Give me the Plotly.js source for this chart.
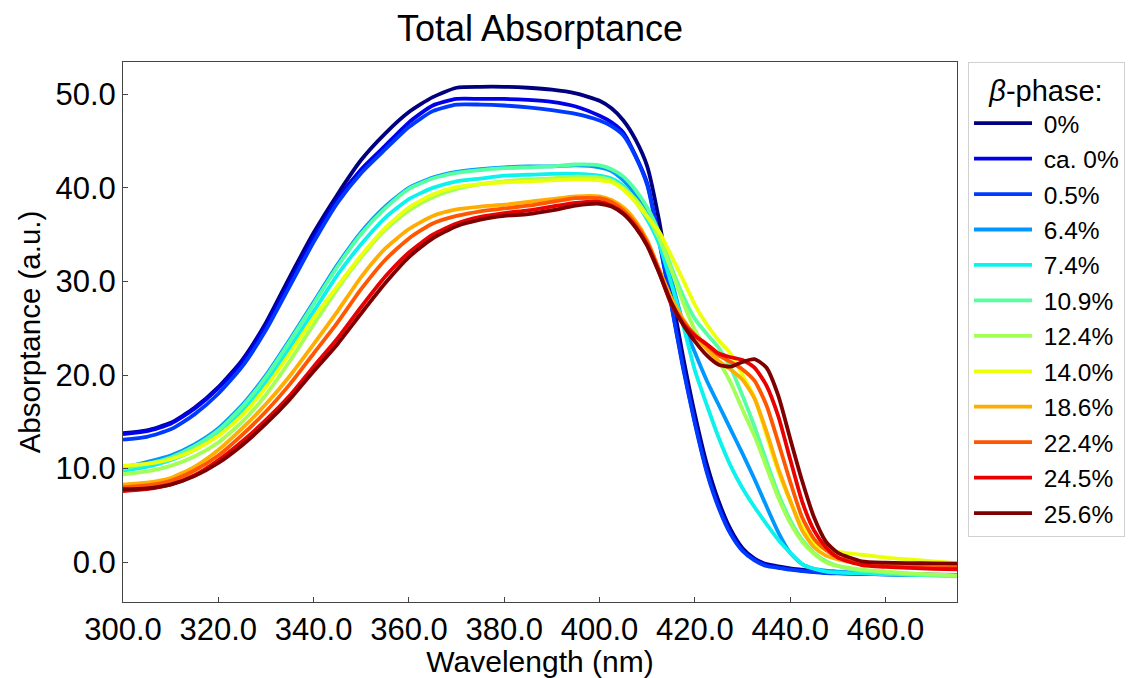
<!DOCTYPE html>
<html>
<head>
<meta charset="utf-8">
<script src="https://cdn.plot.ly/plotly-3.0.1.min.js"></script>
<style>html,body{margin:0;padding:0;background:#fff;}#chart{width:1130px;height:678px;}</style>
</head>
<body>
<div id="chart"></div>
<script>
// Wavelength grid (nm)
const wavelength = [300,305,310,315,320,325,330,335,340,345,350,355,360,365,370,375,380,385,390,395,400,
  402.5,405,407.5,410,412.5,415,417.5,420,422.5,425,427.5,430,432.5,435,437.5,440,442.5,445,447.5,450,
  455,460,465,470,475];

// Series labels (beta-phase fraction)
const labels = ["0%","ca. 0%","0.5%","6.4%","7.4%","10.9%","12.4%","14.0%","18.6%","22.4%","24.5%","25.6%"];

// Absorptance values (a.u.)
const abs_0 = [13.8,14.1,14.9,16.5,18.7,21.6,25.6,30.5,35.2,39.3,43.0,45.8,48.1,49.7,50.7,50.8,50.8,50.7,50.5,50.1,49.3,
  48.5,47.2,45.2,42.3,36.5,29.0,22.0,15.8,10.5,6.5,3.5,1.5,0.4,-0.2,-0.45,-0.65,-0.8,-0.95,-1.05,-1.1,
  -1.2,-1.25,-1.3,-1.32,-1.35];
const abs_ca0 = [13.7,14.0,14.8,16.4,18.6,21.4,25.3,30.0,34.7,38.8,42.0,44.5,47.0,48.8,49.5,49.5,49.5,49.4,49.2,48.7,47.7,
  47.0,45.9,43.5,40.5,34.5,27.8,21.0,15.0,9.8,6.0,3.2,1.3,0.3,-0.3,-0.55,-0.75,-0.9,-1.0,-1.1,-1.15,
  -1.25,-1.3,-1.33,-1.36,-1.4];
const abs_0p5 = [13.1,13.4,14.2,15.8,18.0,20.9,24.8,29.5,34.2,38.4,41.6,44.1,46.5,48.2,48.9,48.9,48.8,48.6,48.3,47.9,47.2,
  46.6,45.6,43.4,40.3,34.3,27.6,20.8,14.8,9.6,5.8,3.0,1.2,0.2,-0.4,-0.6,-0.8,-0.95,-1.05,-1.15,-1.2,
  -1.25,-1.3,-1.33,-1.36,-1.4];
const abs_6p4 = [10.1,10.7,11.4,12.6,14.3,16.8,20.0,23.8,27.8,31.8,35.3,38.0,40.0,41.1,41.7,42.0,42.2,42.3,42.3,42.4,42.2,
  41.8,40.8,39.3,37.3,34.3,30.3,25.6,22.4,19.4,16.8,14.2,11.6,8.9,6.0,3.2,1.0,-0.2,-0.7,-0.9,-1.0,
  -1.15,-1.2,-1.3,-1.35,-1.4];
const abs_7p4 = [9.8,10.2,10.9,12.0,13.7,16.1,19.2,22.9,26.8,30.7,34.0,36.8,38.8,40.0,40.7,41.0,41.3,41.4,41.5,41.5,41.3,
  41.0,40.2,38.6,36.6,34.0,29.8,25.4,20.5,16.8,13.3,10.3,7.9,5.9,4.1,2.4,1.0,-0.2,-0.7,-1.0,-1.1,
  -1.2,-1.3,-1.35,-1.4,-1.45];
const abs_10p9 = [10.0,10.5,11.2,12.4,14.1,16.6,19.8,23.6,27.6,31.6,35.1,37.8,39.9,41.0,41.6,41.9,42.1,42.2,42.3,42.5,42.4,
  42.0,41.2,39.8,37.9,35.2,31.6,28.5,26.0,24.4,22.9,20.8,17.8,14.5,10.8,7.3,4.5,2.4,1.0,0.1,-0.4,
  -0.9,-1.1,-1.3,-1.4,-1.5];
const abs_12p4 = [9.4,9.7,10.3,11.3,12.8,15.0,17.9,21.5,25.4,29.2,32.6,35.5,37.6,39.0,39.9,40.4,40.7,40.9,41.0,41.2,41.1,
  40.8,40.0,38.8,37.0,34.6,31.3,27.8,24.8,22.8,21.4,19.2,16.3,13.5,10.2,6.9,4.2,2.2,0.9,0.0,-0.4,
  -0.8,-1.0,-1.2,-1.3,-1.4];
const abs_14p0 = [10.3,10.5,11.0,12.0,13.5,15.7,18.7,22.3,26.1,29.5,32.8,35.7,37.9,39.3,40.1,40.4,40.6,40.7,40.8,40.9,40.8,
  40.6,39.8,38.5,36.9,35.3,32.8,30.2,27.5,25.4,23.7,22.3,20.0,17.6,13.6,9.7,6.5,3.8,2.0,1.35,1.1,
  0.8,0.5,0.3,0.1,-0.1];
const abs_18p6 = [8.3,8.5,9.0,10.2,12.0,14.3,16.9,19.9,23.3,26.8,30.5,33.5,35.6,37.0,37.7,38.0,38.2,38.5,38.8,39.1,39.1,
  38.7,37.9,36.5,34.4,31.3,28.3,26.0,24.2,22.8,21.5,20.6,19.5,17.5,14.0,10.0,6.6,3.4,1.6,0.7,0.3,
  -0.2,-0.35,-0.4,-0.45,-0.5];
const abs_22p4 = [8.0,8.2,8.7,9.8,11.4,13.6,16.1,19.0,22.3,25.6,29.2,32.3,34.6,36.2,37.0,37.5,37.8,38.1,38.5,38.9,38.9,
  38.5,37.6,36.2,34.2,31.2,27.8,25.8,24.3,23.2,22.1,21.4,20.6,19.4,16.8,12.8,8.6,4.8,2.5,1.3,0.5,
  -0.2,-0.4,-0.5,-0.55,-0.6];
const abs_24p5 = [7.6,7.8,8.3,9.3,10.9,12.9,15.2,17.8,20.9,23.9,27.3,30.5,33.1,35.0,36.2,36.9,37.3,37.6,38.0,38.4,38.5,
  38.1,37.3,35.9,33.9,31.0,27.6,25.5,24.2,23.3,22.3,21.9,21.6,20.8,18.9,15.6,11.0,6.5,3.4,1.6,0.5,
  -0.3,-0.5,-0.6,-0.7,-0.75];
const abs_25p6 = [7.8,7.9,8.3,9.2,10.6,12.5,14.8,17.4,20.4,23.3,26.6,29.8,32.6,34.6,35.9,36.6,37.0,37.2,37.6,38.1,38.3,
  38.0,37.2,35.8,33.8,30.9,27.8,25.4,23.6,22.1,21.1,20.9,21.4,21.7,20.8,17.8,13.2,8.7,4.8,2.2,1.0,
  0.1,-0.05,-0.1,-0.12,-0.15];

const seriesValues = [abs_0,abs_ca0,abs_0p5,abs_6p4,abs_7p4,abs_10p9,abs_12p4,abs_14p0,abs_18p6,abs_22p4,abs_24p5,abs_25p6];

// jet colormap sampled at 12 levels
const colors = ["#00007f","#0000e9","#003aff","#0097ff","#0bf3ec","#56ffa1","#a1ff56","#ecff0b","#ffad00","#ff5700","#e90000","#7f0000"];

const FONT = "Liberation Sans, Arial, Helvetica, sans-serif";

const traces = labels.map((lab, i) => ({
  type: "scatter",
  mode: "lines",
  x: wavelength,
  y: seriesValues[i],
  name: "\u00a0" + lab,
  legendgroup: "g" + i,
  line: {color: colors[i], width: 3.8, shape: "spline", smoothing: 0.6}
}));

const layout = {
  width: 1130,
  height: 678,
  paper_bgcolor: "#ffffff",
  plot_bgcolor: "#ffffff",
  margin: {l: 123, r: 173, t: 62, b: 76, autoexpand: false},
  font: {family: FONT, color: "#000000"},
  title: {
    text: "Total Absorptance",
    font: {family: FONT, size: 36, color: "#000"},
    x: 0.5, xref: "paper", xanchor: "center",
    y: 1 - 28/678, yref: "container", yanchor: "middle"
  },
  xaxis: {
    range: [300, 475],
    dtick: 20, tick0: 300,
    tickformat: ".1f",
    ticks: "inside", ticklen: 5, tickwidth: 1, tickcolor: "#444",
    showgrid: false, zeroline: false,
    showline: true, linecolor: "#444", linewidth: 1, mirror: true,
    tickfont: {family: FONT, size: 31, color: "#000"},
    title: {text: "Wavelength (nm)", font: {family: FONT, size: 30, color: "#000"}, standoff: 6}
  },
  yaxis: {
    range: [-4.25, 53.45],
    dtick: 10, tick0: 0,
    tickformat: ".1f",
    ticks: "inside", ticklen: 5, tickwidth: 1, tickcolor: "#444",
    showgrid: false, zeroline: false,
    showline: true, linecolor: "#444", linewidth: 1, mirror: true,
    tickfont: {family: FONT, size: 31, color: "#000"},
    title: {text: "Absorptance (a.u.)", font: {family: FONT, size: 29.5, color: "#000"}, standoff: 6}
  },
  showlegend: true,
  legend: {
    x: 1.0132, xanchor: "left", xref: "paper",
    y: 1, yanchor: "top", yref: "paper",
    bgcolor: "#ffffff",
    bordercolor: "#d0d0d0", borderwidth: 1,
    font: {family: FONT, size: 24.5, color: "#000"},
    tracegroupgap: 0.6,
    itemwidth: 58,
    title: {text: "<i>β</i>-phase:", font: {family: FONT, size: 29, color: "#000"}, side: "top center"}
  }
};

Plotly.newPlot("chart", traces, layout, {displayModeBar: false, staticPlot: true});
</script>
</body>
</html>
